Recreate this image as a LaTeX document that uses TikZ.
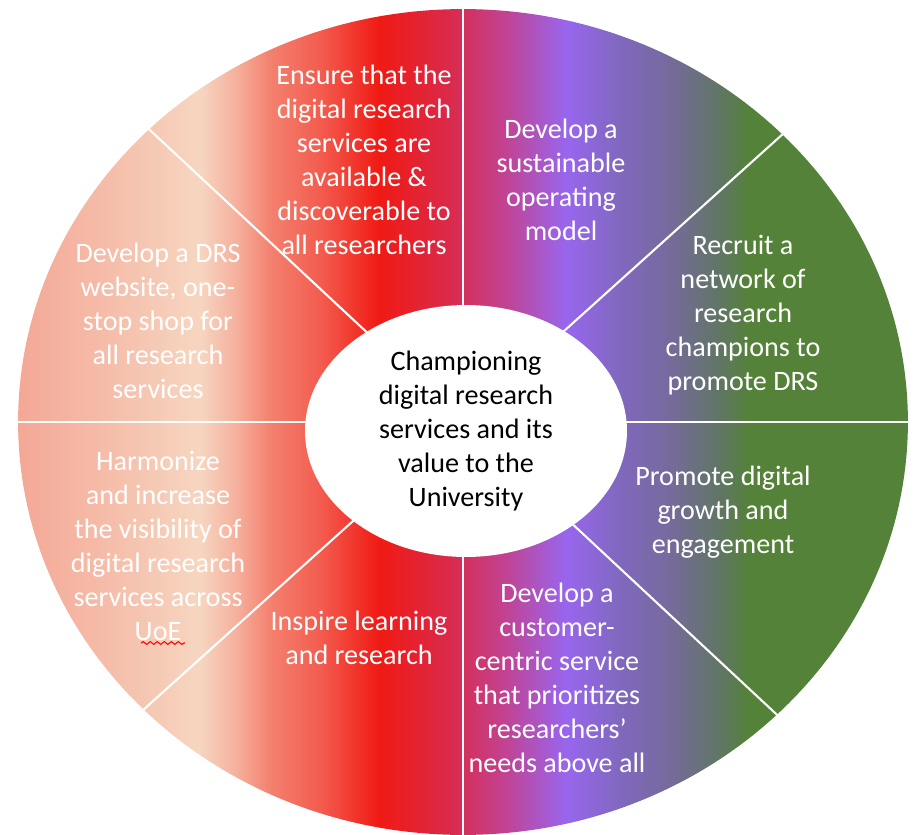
\documentclass[tikz,border=0pt]{standalone}
\usepackage{fontspec}
\setmainfont{Carlito}
\usetikzlibrary{shapes.geometric,decorations.pathmorphing}

\definecolor{drsSalmon}{RGB}{244,168,150}
\definecolor{drsPeach}{RGB}{245,192,172}
\definecolor{drsCream}{RGB}{246,214,192}
\definecolor{drsCoral}{RGB}{245,178,158}
\definecolor{drsTomato}{RGB}{244,128,110}
\definecolor{drsScarlet}{RGB}{243,92,78}
\definecolor{drsRed}{RGB}{240,26,20}
\definecolor{drsCrimson}{RGB}{218,42,76}
\definecolor{drsMagenta}{RGB}{196,64,140}
\definecolor{drsViolet}{RGB}{152,102,238}
\definecolor{drsLavender}{RGB}{128,104,190}
\definecolor{drsSlate}{RGB}{118,106,156}
\definecolor{drsMoss}{RGB}{96,118,100}
\definecolor{drsGreen}{RGB}{84,130,56}

\pgfdeclarehorizontalshading{drs}{100bp}{color(0bp)=(drsSalmon); color(25bp)=(drsSalmon);
  color(30.7bp)=(drsPeach); color(35.2bp)=(drsCream); color(37.2bp)=(drsCoral);
  color(39.2bp)=(drsTomato); color(42bp)=(drsScarlet); color(45.3bp)=(drsRed);
  color(49.3bp)=(drsCrimson); color(52.1bp)=(drsMagenta); color(55.8bp)=(drsViolet);
  color(58.8bp)=(drsLavender); color(61.6bp)=(drsSlate); color(64.4bp)=(drsMoss);
  color(66.1bp)=(drsGreen); color(100bp)=(drsGreen)}

\begin{document}
\begin{tikzpicture}[x=0.02cm, y=-0.02cm, every node/.style={font=\fontsize{16}{19.4}\selectfont, align=center, inner sep=0pt}, goal/.style={text=white}, divider/.style={draw=white, line width=1.2pt}]
    \useasboundingbox (0,0) rectangle (914,835);

    \node [ellipse, shade, shading=drs, minimum width=17.8cm, minimum height=16.52cm](wheel) at (463,422) {};

    \path[divider]
        (wheel.center) edge (wheel.0)
        (wheel.center) edge (wheel.42.87)
        (wheel.center) edge (wheel.90)
        (wheel.center) edge (wheel.137.13)
        (wheel.center) edge (wheel.180)
        (wheel.center) edge (wheel.222.87)
        (wheel.center) edge (wheel.270)
        (wheel.center) edge (wheel.317.13)
        ;

    \node [ellipse, fill=white, minimum width=6.44cm, minimum height=5.04cm](hub) at (466,431) {Championing\\digital research\\services and its\\value to the\\University};

    \node [goal](ensure) at (364,160) {Ensure that the\\digital research\\services are\\available \&\\discoverable to\\all researchers};
    \node [goal](model) at (561,180) {Develop a\\sustainable\\operating\\model};
    \node [goal](recruit) at (743,315) {Recruit a\\network of\\research\\champions to\\promote DRS};
    \node [goal](growth) at (723,512) {Promote digital\\growth and\\engagement};
    \node [goal](customer) at (557,678) {Develop a\\customer-\\centric service\\that prioritizes\\researchers’\\needs above all};
    \node [goal](inspire) at (359,638) {Inspire learning\\and research};
    \node [goal](harmonize) at (158,546) {Harmonize\\and increase\\the visibility of\\digital research\\services across\\UoE};
    \node [goal](website) at (158,321) {Develop a DRS\\website, one-\\stop shop for\\all research\\services};

    % spell-check mark under UoE
    \draw[red, line width=0.6pt, decorate, decoration={snake, amplitude=0.8pt, segment length=4pt}] (141,643) -- (185,643);
\end{tikzpicture}
\end{document}
